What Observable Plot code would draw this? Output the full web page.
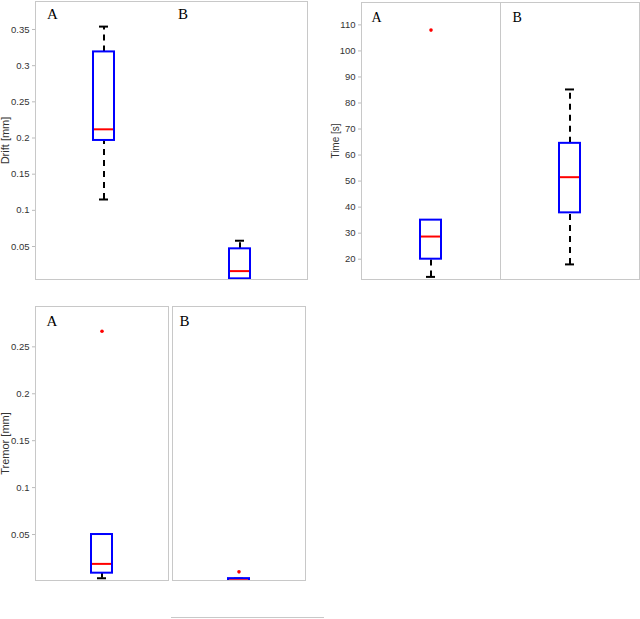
<!DOCTYPE html>
<html><head><meta charset="utf-8">
<script src="https://cdn.jsdelivr.net/npm/d3@7"></script>
<script src="https://cdn.jsdelivr.net/npm/@observablehq/plot@0.6"></script>
<style>
body{margin:0;background:#fff;}
#wrap{position:relative;width:640px;height:619px;overflow:hidden;background:#fff;}
#wrap svg{position:absolute;}
#stub{position:absolute;left:171px;top:617px;width:153px;height:0;border-top:1px solid #c8c8c8;}
</style></head><body><div id="wrap"><div id="stub"></div></div>
<script>
const groups = ["A", "B"];

// Drift [mm]
const driftLow  = [0.115, 0.0045];
const driftQ1   = [0.1966, 0.0053];
const driftMed  = [0.212, 0.016];
const driftQ3   = [0.319, 0.0468];
const driftHigh = [0.354, 0.058];
const driftOutG = [];
const driftOutV = [];
const driftTicks = [0.05, 0.1, 0.15, 0.2, 0.25, 0.3, 0.35];

// Time [s]
const timeLow  = [13.2, 18];
const timeQ1   = [20, 37.8];
const timeMed  = [28.7, 51.5];
const timeQ3   = [35, 64.5];
const timeHigh = [35, 85.2];
const timeOutG = ["A"];
const timeOutV = [108];
const timeTicks = [20, 30, 40, 50, 60, 70, 80, 90, 100, 110];

// Tremor [mm]
const tremorLow  = [0.0034, 0.0005];
const tremorQ1   = [0.0088, 0.0003];
const tremorMed  = [0.0187, 0.0012];
const tremorQ3   = [0.05, 0.003];
const tremorHigh = [0.05, 0.003];
const tremorOutG = ["A", "B"];
const tremorOutV = [0.2666, 0.0102];
const tremorTicks = [0.05, 0.1, 0.15, 0.2, 0.25];

function rows(low, q1, med, q3, high) {
  return groups.map((g, i) => ({g, low: low[i], q1: q1[i], med: med[i], q3: q3[i], high: high[i]}));
}
function outs(gs, vs) { return gs.map((g, i) => ({g, v: vs[i]})); }
const fmt = d => String(+d.toFixed(4));

function chart(cfg) {
  const data = rows(...cfg.stats);
  const out = outs(...cfg.outliers);
  const faceted = cfg.faceted;
  const pos = faceted ? {fx: "g", x: () => "box"} : {x: "g"};
  const whisk = {stroke: "black", strokeWidth: 2, strokeDasharray: "6,5", clip: true};
  const cap = {stroke: "black", strokeWidth: 2, insetLeft: 6, insetRight: 6, clip: true};
  const labelMarks = groups.map((g, i) => faceted
    ? Plot.text([g], {fx: d => d, text: d => d, frameAnchor: "top-left", textAnchor: "start", lineAnchor: "top", dx: cfg.labDx[i], dy: cfg.labDy, fontFamily: "Liberation Serif", fontSize: cfg.labSize, fill: "black"})
    : Plot.text([g], {x: d => d, text: d => d, frameAnchor: "top", textAnchor: "start", lineAnchor: "top", dx: cfg.labDx[i], dy: cfg.labDy, fontFamily: "Liberation Serif", fontSize: cfg.labSize, fill: "black"}));
  const marks = [
    Plot.ruleX(data, {...pos, y1: "q3", y2: "high", ...whisk}),
    Plot.ruleX(data, {...pos, y1: "low", y2: "q1", ...whisk}),
    Plot.tickY(data, {...pos, y: "high", ...cap}),
    Plot.tickY(data, {...pos, y: "low", ...cap}),
    Plot.barY(data, {...pos, y1: "q1", y2: "q3", fill: "white", stroke: "#0000ff", strokeWidth: 2, clip: true}),
    Plot.tickY(data, {...pos, y: "med", stroke: "#ff0000", strokeWidth: 2, insetLeft: 1, insetRight: 1, clip: true}),
    Plot.dot(out, {...pos, y: "v", r: 1.8, fill: "#ff0000", stroke: "none"}),
    ...labelMarks,
    Plot.text([cfg.ylabel], {...(faceted ? {fx: () => "A"} : {}), text: d => d, frameAnchor: "left", rotate: -90, dx: cfg.ylabDx, textAnchor: "middle", lineAnchor: "middle", fontFamily: "Liberation Sans", fontSize: cfg.ylabSize, fill: "#333"}),
    Plot.frame({stroke: "#c8c8c8", strokeWidth: 1}),
    Plot.axisY({ticks: cfg.ticks, tickFormat: fmt, tickSize: 3, tickPadding: 3, stroke: "#bbbbbb", fill: "#333", fontSize: cfg.tickSize, fontFamily: "Liberation Sans", label: null})
  ];
  const opts = {
    width: cfg.width, height: cfg.height,
    marginLeft: cfg.ml, marginRight: cfg.mr, marginTop: cfg.mt, marginBottom: cfg.mb,
    style: {background: "transparent", overflow: "visible"},
    y: {domain: cfg.domain, label: null},
    x: faceted ? {axis: null, padding: cfg.xpad, label: null} : {axis: null, domain: groups, paddingInner: cfg.xpad, paddingOuter: cfg.xpad / 2, label: null},
    marks
  };
  if (faceted) opts.fx = {domain: groups, axis: null, paddingInner: cfg.fxpad, paddingOuter: 0, label: null};
  const svg = Plot.plot(opts);
  svg.style.left = cfg.left + "px";
  svg.style.top = cfg.top + "px";
  document.getElementById("wrap").appendChild(svg);
}

chart({
  stats: [driftLow, driftQ1, driftMed, driftQ3, driftHigh], outliers: [driftOutG, driftOutV],
  faceted: false, left: 0, top: 0, width: 320, height: 280, ml: 35, mr: 13, mt: 1, mb: 1,
  domain: [0.0044, 0.3887], ticks: driftTicks, xpad: 1 - 42 / 272,
  labDx: [-57, -62], labDy: 7, labSize: 15, ylabel: "Drift [mm]", ylabDx: -30, ylabSize: 11, tickSize: 9.5
});
chart({
  stats: [timeLow, timeQ1, timeMed, timeQ3, timeHigh], outliers: [timeOutG, timeOutV],
  faceted: true, fxpad: 0, left: 320, top: 0, width: 320, height: 280, ml: 40, mr: 1, mt: 2, mb: 1,
  domain: [12.2, 118.6], ticks: timeTicks, xpad: 0.7384,
  labDx: [10, 12], labDy: 9.5, labSize: 14, ylabel: "Time [s]", ylabDx: -26, ylabSize: 10, tickSize: 9.5
});
chart({
  stats: [tremorLow, tremorQ1, tremorMed, tremorQ3, tremorHigh], outliers: [tremorOutG, tremorOutV],
  faceted: true, fxpad: 0.029, left: 0, top: 295, width: 320, height: 286, ml: 35, mr: 14, mt: 11, mb: 1,
  domain: [0.001, 0.293], ticks: tremorTicks, xpad: 0.728,
  labDx: [11, 7], labDy: 9, labSize: 15, ylabel: "Tremor [mm]", ylabDx: -30, ylabSize: 11, tickSize: 9.5
});
</script></body></html>
